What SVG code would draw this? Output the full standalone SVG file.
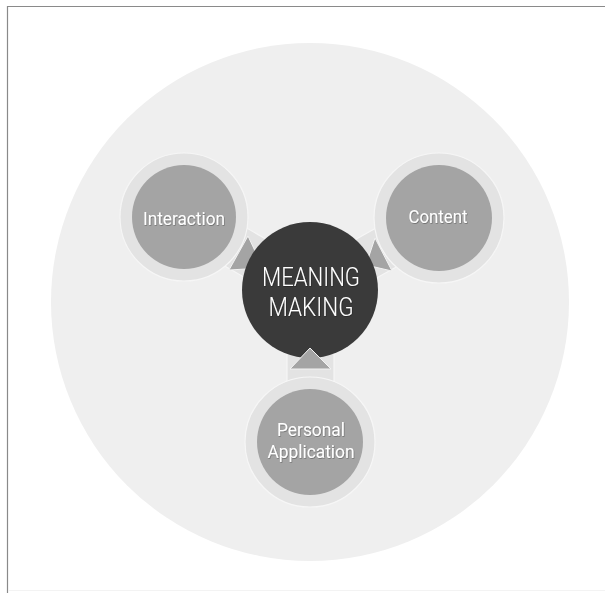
<svg xmlns="http://www.w3.org/2000/svg" width="605" height="593" viewBox="0 0 605 593">
  <style>
    .frame { stroke: #8a8a8a; stroke-width: 1.2; fill: none; }
    .ring { fill: #e3e3e3; stroke: #f6f6f6; stroke-width: 1.2; }
    .inner { fill: #a4a4a4; }
    .hub { fill: #3a3a3a; }
    .arrow { fill: #a4a4a4; stroke: #f2f2f2; stroke-width: 1; stroke-linejoin: miter; }
    .label { font-family: Roboto, "Liberation Sans", sans-serif; fill: #ffffff; text-anchor: middle; }
    .small { font-size: 18.5px; }
    .big { font-size: 25px; font-weight: 300; }
  </style>
  <defs>
    <filter id="shadow" x="-10%" y="-10%" width="120%" height="130%">
      <feDropShadow dx="0.6" dy="0.8" stdDeviation="0.6" flood-color="#000000" flood-opacity="0.35"/>
    </filter>
  </defs>

  <rect width="605" height="593" fill="#ffffff"/>
  <path class="frame" d="M7.5 593 V6.5 H605"/>
  <line x1="8" y1="590.5" x2="605" y2="590.5" stroke="#f3f3f3" stroke-width="1"/>

  <!-- backdrop disc -->
  <circle cx="310" cy="302" r="259" fill="#efefef"/>

  <!-- stems joining the outer nodes to the hub -->
  <g id="connectors">
    <polygon class="ring" points="173,236 299,309 321,271 195,198"/>
    <polygon class="ring" points="450,237 321,309 299,271 428,199"/>
    <rect class="ring" x="287" y="290" width="47" height="152"/>
    <polygon class="arrow" points="248,236 229,270 263,268"/>
    <polygon class="arrow" points="375,238 366,265 392,271"/>
  </g>

  <g id="interaction">
    <circle class="ring" cx="184" cy="217" r="64"/>
    <circle class="inner" cx="184" cy="217" r="52"/>
    <text class="label small" x="184" y="225" textLength="82" lengthAdjust="spacingAndGlyphs" filter="url(#shadow)">Interaction</text>
  </g>

  <g id="content">
    <circle class="ring" cx="439" cy="218" r="65"/>
    <circle class="inner" cx="439" cy="218" r="53"/>
    <text class="label small" x="438" y="223" textLength="59" lengthAdjust="spacingAndGlyphs" filter="url(#shadow)">Content</text>
  </g>

  <g id="personal-application">
    <circle class="ring" cx="310" cy="442" r="65"/>
    <circle class="inner" cx="310" cy="442" r="53"/>
    <text class="label small" x="311" y="436" textLength="68" lengthAdjust="spacingAndGlyphs" filter="url(#shadow)">Personal</text>
    <text class="label small" x="311" y="458" textLength="87" lengthAdjust="spacingAndGlyphs" filter="url(#shadow)">Application</text>
  </g>

  <g id="meaning-making">
    <circle class="hub" cx="310" cy="290" r="68"/>
    <text class="label big" x="311" y="286" textLength="98" lengthAdjust="spacingAndGlyphs" filter="url(#shadow)">MEANING</text>
    <text class="label big" x="311" y="316" textLength="85" lengthAdjust="spacingAndGlyphs" filter="url(#shadow)">MAKING</text>
  </g>

  <g id="arrow-bottom">
    <polygon class="arrow" points="310,348 290,369 331,369"/>
  </g>
</svg>
